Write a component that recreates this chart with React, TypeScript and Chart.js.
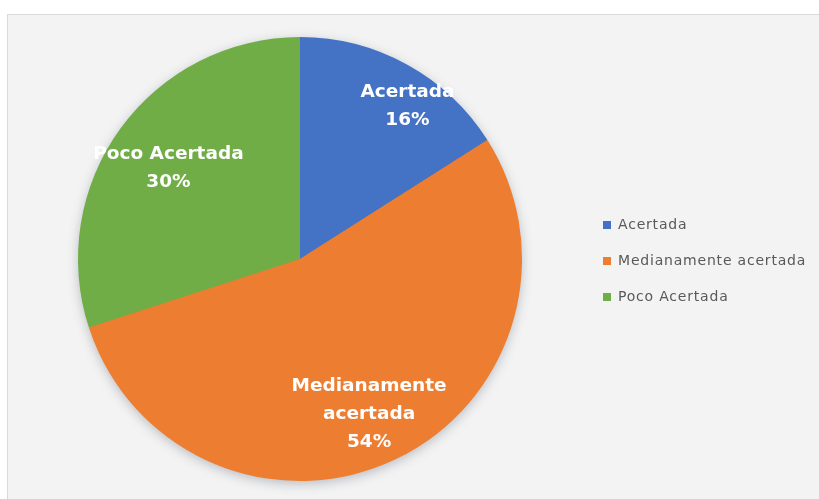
import React, { useEffect, useRef } from "react";
import { Chart, registerables } from "chart.js";

Chart.register(...registerables);

const categories = ["Acertada", "Medianamente acertada", "Poco Acertada"];
const labelLines = [["Acertada"], ["Medianamente", "acertada"], ["Poco Acertada"]];
const values = [16, 54, 30];
const colors = ["#4472C4", "#ED7D31", "#70AD47"];

// label placement: fraction of radius and angle tweak (degrees)
const labelRadius = [0.84, 0.765, 0.72];
const labelAngle = [6.4, 1.2, -1.4];

const shadowPlugin = {
  id: "pieShadow",
  beforeDatasetsDraw(chart: any) {
    const meta = chart.getDatasetMeta(0);
    const arc = meta.data[0];
    if (!arc) return;
    const { x, y, outerRadius } = arc.getProps(["x", "y", "outerRadius"], true);
    const ctx = chart.ctx;
    ctx.save();
    ctx.shadowColor = "rgba(60,70,90,0.35)";
    ctx.shadowBlur = 12;
    ctx.shadowOffsetY = 3;
    ctx.beginPath();
    ctx.arc(x, y, outerRadius - 1, 0, Math.PI * 2);
    ctx.fillStyle = "#ED7D31";
    ctx.fill();
    ctx.restore();
  },
};

const labelPlugin = {
  id: "sliceLabels",
  afterDatasetsDraw(chart: any) {
    const ctx = chart.ctx;
    const meta = chart.getDatasetMeta(0);
    const total = values.reduce((a, b) => a + b, 0);
    meta.data.forEach((arc: any, i: number) => {
      const { x, y, startAngle, endAngle, outerRadius } = arc.getProps(
        ["x", "y", "startAngle", "endAngle", "outerRadius"],
        true
      );
      const mid = (startAngle + endAngle) / 2 + (labelAngle[i] * Math.PI) / 180;
      const r = outerRadius * labelRadius[i];
      const cx = x + Math.cos(mid) * r;
      const cy = y + Math.sin(mid) * r;
      const lines = [...labelLines[i], Math.round((values[i] / total) * 100) + "%"];
      const lh = 28;
      ctx.save();
      ctx.font = "bold 18.5px 'DejaVu Sans', sans-serif";
      ctx.fillStyle = "#ffffff";
      ctx.textAlign = "center";
      ctx.textBaseline = "middle";
      const y0 = cy - ((lines.length - 1) * lh) / 2;
      lines.forEach((t, k) => ctx.fillText(t, cx, y0 + k * lh));
      ctx.restore();
    });
  },
};

const legendPlugin = {
  id: "sideLegend",
  afterDraw(chart: any) {
    const ctx = chart.ctx;
    const left = 603;
    const top = 225;
    const gap = 36;
    ctx.save();
    ctx.font = "14px 'DejaVu Sans', sans-serif";
    (ctx as any).letterSpacing = "0.8px";
    ctx.textBaseline = "middle";
    ctx.textAlign = "left";
    categories.forEach((c, i) => {
      const yy = top + i * gap;
      ctx.fillStyle = colors[i];
      ctx.fillRect(left, yy - 4, 8, 8);
      ctx.fillStyle = "#595959";
      ctx.fillText(c, left + 15, yy);
    });
    ctx.restore();
  },
};

export default function App() {
  const ref = useRef<HTMLCanvasElement>(null);
  useEffect(() => {
    if (!ref.current) return;
    const chart = new Chart(ref.current, {
      type: "pie",
      data: {
        labels: categories,
        datasets: [
          {
            data: values,
            backgroundColor: colors,
            borderWidth: 0,
          },
        ],
      },
      options: {
        animation: false,
        responsive: false,
        maintainAspectRatio: false,
        layout: { padding: { left: 78, right: 297, top: 37, bottom: 18 } },
        plugins: {
          legend: { display: false },
          tooltip: { enabled: false },
        },
      },
      plugins: [shadowPlugin, labelPlugin, legendPlugin],
    });
    return () => chart.destroy();
  }, []);
  return (
    <div style={{ position: "absolute", left: 0, top: 0, width: 819, height: 499, background: "#ffffff", overflow: "hidden" }}>
      <div
        style={{
          position: "absolute",
          left: 7,
          top: 14,
          width: 830,
          height: 500,
          background: "#f3f3f3",
          border: "1px solid #d9d9d9",
          boxSizing: "border-box",
        }}
      />
      <canvas ref={ref} width={819} height={499} style={{ position: "absolute", left: 0, top: 0, width: 819, height: 499 }} />
    </div>
  );
}
